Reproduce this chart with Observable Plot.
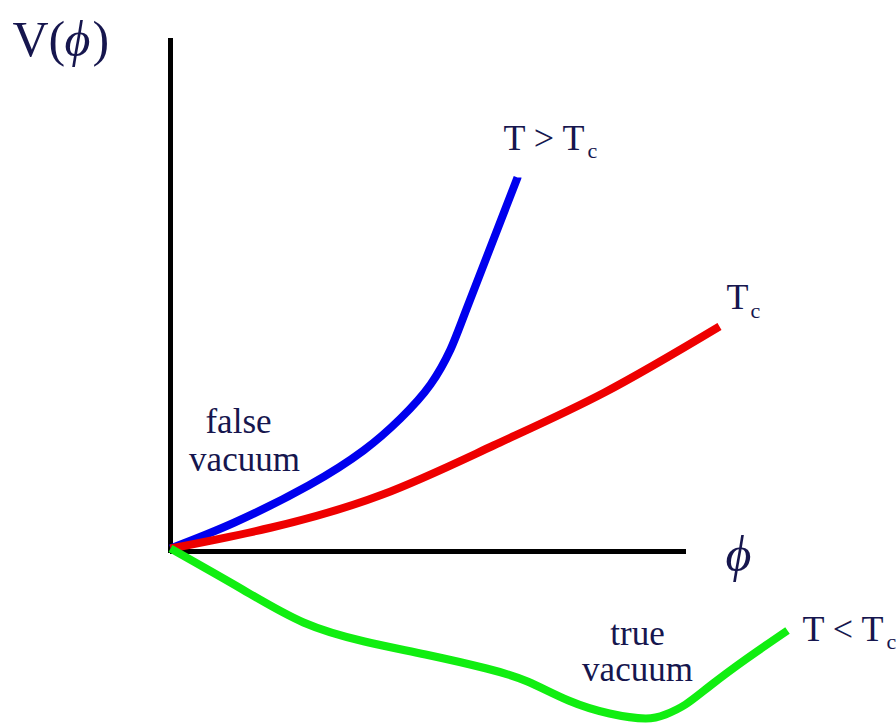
<!DOCTYPE html>
<html>
<head>
<meta charset="utf-8">
<script src="https://cdn.jsdelivr.net/npm/d3@7"></script>
<script src="https://cdn.jsdelivr.net/npm/@observablehq/plot@0.6"></script>
<style>
  html, body { margin: 0; padding: 0; background: #fff; }
  #chart { width: 896px; height: 723px; }
</style>
</head>
<body>
<div id="chart"></div>
<script>
// φ (field) and V(φ) values, arbitrary units
const phiHot  = [0, 0.64, 1.38, 1.93, 2.30, 2.60, 2.80, 2.97, 3.47];
const vHot    = [0, 0.26, 0.63, 0.98, 1.30, 1.64, 1.99, 2.42, 3.71];
const phiCrit = [0, 1.01, 2.12, 3.23, 4.34, 5.49];
const vCrit   = [0, 0.21, 0.54, 1.03, 1.56, 2.22];
const phiCold = [0, 0.72, 1.33, 1.94, 2.55, 3.16, 3.57, 3.98, 4.39, 4.75, 4.95, 5.15, 5.40, 5.75, 6.17];
const vCold   = [0, -0.41, -0.74, -0.93, -1.06, -1.20, -1.33, -1.52, -1.65, -1.70, -1.66, -1.56, -1.37, -1.11, -0.82];

const axisPhiMax = 5.16;
const axisVMax = 5.10;

const seriesNames = ["T > Tc", "Tc", "T < Tc"];
const seriesColors = ["#0000ee", "#ee0000", "#11ee11"];

const toRows = (xs, ys, s) => xs.map((x, i) => ({phi: x, v: ys[i], s}));
const curves = [
  ...toRows(phiHot, vHot, seriesNames[0]),
  ...toRows(phiCrit, vCrit, seriesNames[1]),
  ...toRows(phiCold, vCold, seriesNames[2])
];

// text annotations
const mainLabels = [
  {text: "T > T", x: 3.33, y: 3.99},
  {text: "T", x: 5.56, y: 2.40},
  {text: "T < T", x: 6.32, y: -0.92}
];
const subLabels = [
  {text: "c", x: 4.17, y: 3.91},
  {text: "c", x: 5.80, y: 2.31},
  {text: "c", x: 7.16, y: -1.00}
];
const regionLabels = [
  {text: "false", x: 0.68, y: 1.16},
  {text: "vacuum", x: 0.74, y: 0.78},
  {text: "true", x: 4.67, y: -0.96},
  {text: "vacuum", x: 4.67, y: -1.32}
];

const ink = "#16164e";
const serif = "Liberation Serif, Times New Roman, serif";

const plot = Plot.plot({
  width: 896,
  height: 723,
  margin: 0,
  x: {domain: [-1.70, 7.26], axis: null},
  y: {domain: [-1.75, 5.48], axis: null},
  color: {domain: seriesNames, range: seriesColors},
  style: {background: "#fff"},
  marks: [
    Plot.ruleX([0], {y1: -0.05, y2: axisVMax, stroke: "#000", strokeWidth: 5}),
    Plot.ruleY([-0.03], {x1: 0, x2: axisPhiMax, stroke: "#000", strokeWidth: 5}),
    Plot.line(curves, {x: "phi", y: "v", z: "s", stroke: "s", strokeWidth: 8, curve: "natural", strokeLinecap: "butt", strokeLinejoin: "round"}),
    Plot.text(mainLabels, {x: "x", y: "y", text: "text", textAnchor: "start", lineAnchor: "bottom", fontSize: 36, fontFamily: serif, fill: ink}),
    Plot.text(subLabels, {x: "x", y: "y", text: "text", textAnchor: "start", lineAnchor: "bottom", fontSize: 22, fontFamily: serif, fill: ink}),
    Plot.text(regionLabels, {x: "x", y: "y", text: "text", textAnchor: "middle", lineAnchor: "bottom", fontSize: 35, fontFamily: serif, fill: ink}),
    Plot.text(["ϕ"], {x: 5.68, y: -0.22, text: d => d, textAnchor: "middle", lineAnchor: "bottom", fontSize: 50, fontStyle: "italic", fontFamily: serif, fill: ink}),
    Plot.text(["V("], {x: -1.58, y: 4.93, text: d => d, textAnchor: "start", lineAnchor: "bottom", fontSize: 50, fontFamily: serif, fill: ink}),
    Plot.text(["ϕ"], {x: -1.06, y: 4.93, text: d => d, textAnchor: "start", lineAnchor: "bottom", fontSize: 50, fontStyle: "italic", fontFamily: serif, fill: ink}),
    Plot.text([")"], {x: -0.78, y: 4.93, text: d => d, textAnchor: "start", lineAnchor: "bottom", fontSize: 50, fontFamily: serif, fill: ink})
  ]
});
document.getElementById("chart").appendChild(plot);
</script>
</body>
</html>
